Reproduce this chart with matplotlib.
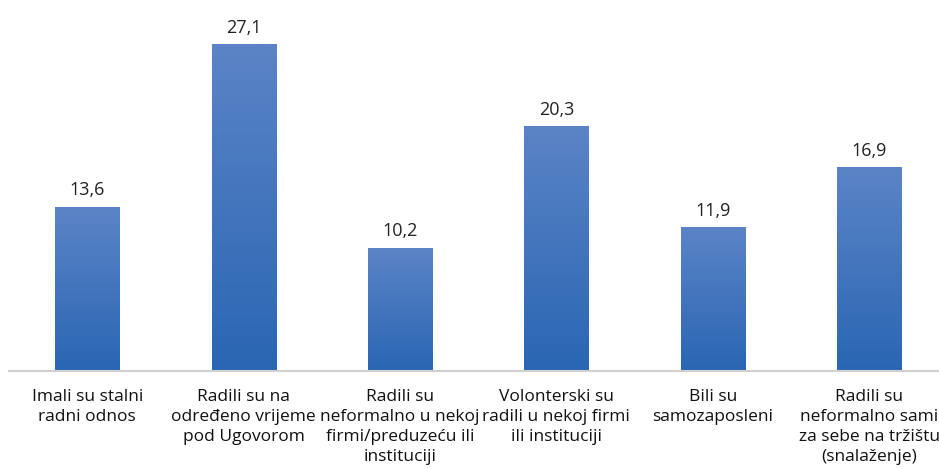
import matplotlib.pyplot as plt
import numpy as np
from matplotlib.colors import LinearSegmentedColormap

categories = ["Imali su stalni\nradni odnos",
              "Radili su na\nodređeno vrijeme\npod Ugovorom",
              "Radili su\nneformalno u nekoj\nfirmi/preduzeću ili\ninstituciji",
              "Volonterski su\nradili u nekoj firmi\nili instituciji",
              "Bili su\nsamozaposleni",
              "Radili su\nneformalno sami\nza sebe na tržištu\n(snalaženje)"]
values = [13.6, 27.1, 10.2, 20.3, 11.9, 16.9]
value_labels = ["13,6", "27,1", "10,2", "20,3", "11,9", "16,9"]

plt.rcParams['font.family'] = ['Open Sans', 'DejaVu Sans']

fig = plt.figure(figsize=(9.39, 4.70), dpi=100)
ax = fig.add_axes([0.0096, 0.211, 0.9993, 0.789])

cmap = LinearSegmentedColormap.from_list("bar", ["#2a66b3", "#5b84c6"])
grad = np.linspace(0, 1, 256).reshape(-1, 1)
width = 0.41

x = np.arange(len(values))
bars = ax.bar(x, values, width, color="none")
for b, v, lab in zip(bars, values, value_labels):
    x0 = b.get_x()
    ax.imshow(grad, extent=(x0, x0 + width, 0, v), origin="lower", cmap=cmap,
              aspect="auto", zorder=2)
    ax.text(b.get_x() + width / 2, v + 0.65, lab, ha="center", va="bottom",
            fontsize=13, color="#222222")

ax.set_xlim(-0.5, len(values) - 0.5)
ax.set_ylim(0, 30.8)
ax.set_yticks([])
ax.set_xticks(x)
ax.set_xticklabels(categories, fontsize=12.5, color="#111111", linespacing=1.35)
ax.tick_params(axis="x", length=0, pad=13)
for s in ["top", "right", "left"]:
    ax.spines[s].set_visible(False)
ax.spines["bottom"].set_color("#d0d0d0")
ax.spines["bottom"].set_linewidth(1.5)

plt.savefig("out.png", dpi=100)
